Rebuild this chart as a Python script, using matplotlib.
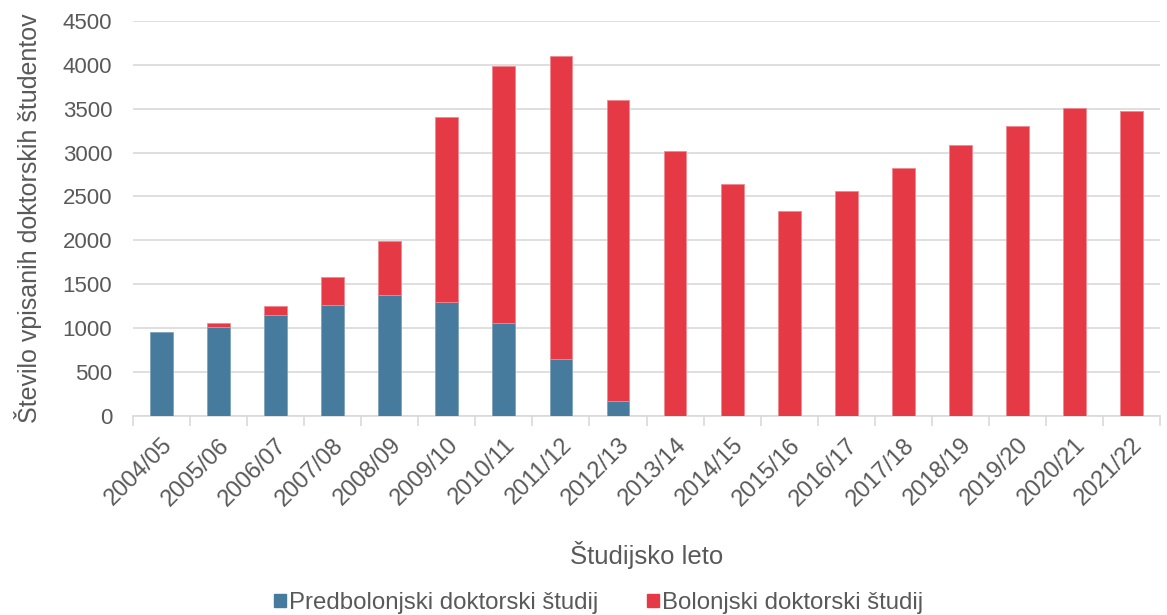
import numpy as np
import matplotlib.pyplot as plt
from matplotlib.patches import Patch

# academic years
years = ["2004/05", "2005/06", "2006/07", "2007/08", "2008/09", "2009/10",
         "2010/11", "2011/12", "2012/13", "2013/14", "2014/15", "2015/16",
         "2016/17", "2017/18", "2018/19", "2019/20", "2020/21", "2021/22"]

# pre-Bologna doctoral students
pre_bologna = [960, 1010, 1150, 1260, 1378, 1295, 1056, 646, 171,
               0, 0, 0, 0, 0, 0, 0, 0, 0]

# Bologna doctoral students
bologna = [0, 46, 103, 320, 615, 2114, 2931, 3451, 3432,
           3015, 2642, 2331, 2559, 2825, 3087, 3307, 3508, 3474]

blue = "#467b9d"
red = "#e63946"
grey_text = "#595959"
grid_col = "#d9d9d9"

plt.rcParams["font.family"] = ["Liberation Sans", "DejaVu Sans"]

fig = plt.figure(figsize=(11.67, 6.15), dpi=100)
ax = fig.add_axes([0.114, 0.3236, 0.88, 0.6424])

x = np.arange(len(years))
w = 0.4
# no outline on empty segments, otherwise a thin line shows up
lw_pre = [0.6 if v > 0 else 0 for v in pre_bologna]
lw_bol = [0.6 if v > 0 else 0 for v in bologna]
ax.bar(x, pre_bologna, w, color=blue, edgecolor="#7fa3bb", linewidth=lw_pre, zorder=3)
ax.bar(x, bologna, w, bottom=pre_bologna, color=red, edgecolor="#f08890",
       linewidth=lw_bol, zorder=3)

ax.set_xlim(-0.5, len(years) - 0.5)
ax.set_ylim(0, 4500)
ax.set_yticks(np.arange(0, 4501, 500))
ax.yaxis.grid(True, color=grid_col, linewidth=1.2, zorder=0)
ax.tick_params(axis="y", length=0, labelsize=16, labelcolor=grey_text, pad=15)

# category labels centred on bars, tick marks between categories
ax.set_xticks(x)
ax.set_xticklabels(years, rotation=45, ha="right", rotation_mode="anchor",
                   fontsize=17, color=grey_text)
ax.tick_params(axis="x", which="major", length=0, pad=13)
ax.set_xticks(np.arange(-0.5, len(years), 1), minor=True)
ax.tick_params(axis="x", which="minor", length=7, color=grid_col, width=1.2)

for s in ["top", "right", "left"]:
    ax.spines[s].set_visible(False)
ax.spines["bottom"].set_color(grid_col)
ax.spines["bottom"].set_linewidth(1.2)

ax.set_ylabel("Število vpisanih doktorskih študentov", fontsize=18,
              color=grey_text, labelpad=15)
ax.set_xlabel("Študijsko leto", fontsize=18.5, color=grey_text)
ax.xaxis.set_label_coords(0.5, -0.352)
ax.xaxis.label.set_va("center")

handles = [Patch(color=blue, label="Predbolonjski doktorski študij"),
           Patch(color=red, label="Bolonjski doktorski študij")]
leg = fig.legend(handles=handles, loc="center", bbox_to_anchor=(0.513, 0.0195),
                 ncol=2, frameon=False, fontsize=17.3, handlelength=0.5,
                 handleheight=0.5, handletextpad=0.15, columnspacing=2.0,
                 borderpad=0)
for t in leg.get_texts():
    t.set_color(grey_text)

fig.savefig("out.png", dpi=100)
